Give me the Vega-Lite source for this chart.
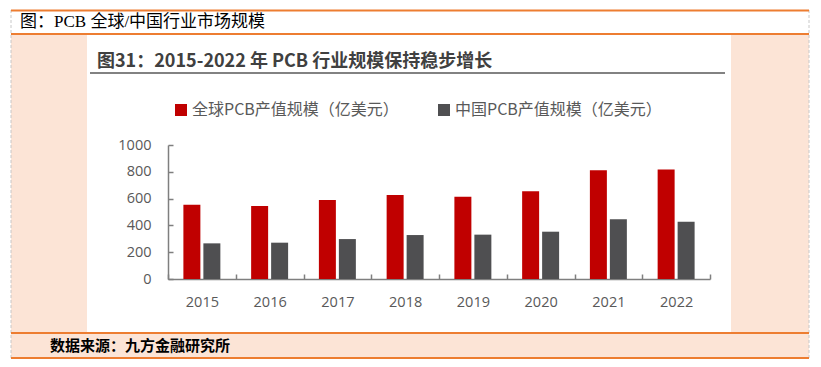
{
  "$schema": "https://vega.github.io/schema/vega-lite/v6.json",
  "width": 542,
  "height": 134,
  "autosize": {"type": "none"},
  "padding": {"left": 168, "top": 145, "right": 111, "bottom": 88},
  "background": "white",
  "config": {"view": {"stroke": null}, "font": "Noto Sans CJK SC"},
  "layer": [
    {
      "data": {"values": [{}]},
      "mark": {"type": "rect", "color": "#FCE4D6", "clip": false},
      "encoding": {"x": {"value": -157}, "x2": {"value": -81}, "y": {"value": -110}, "y2": {"value": 188}}
    },
    {
      "data": {"values": [{}]},
      "mark": {"type": "rect", "color": "#FCE4D6", "clip": false},
      "encoding": {"x": {"value": 563}, "x2": {"value": 641}, "y": {"value": -110}, "y2": {"value": 188}}
    },
    {
      "data": {"values": [{}]},
      "mark": {"type": "rect", "color": "#FCE4D6", "clip": false},
      "encoding": {"x": {"value": -157}, "x2": {"value": 641}, "y": {"value": 188}, "y2": {"value": 213}}
    },
    {
      "data": {"values": [{}]},
      "mark": {"type": "rule", "color": "#C8C8C8", "strokeDash": [3, 2], "strokeWidth": 1},
      "encoding": {"x": {"value": -157}, "y": {"value": -135}, "y2": {"value": 213}}
    },
    {
      "data": {"values": [{}]},
      "mark": {"type": "rule", "color": "#C8C8C8", "strokeDash": [3, 2], "strokeWidth": 1},
      "encoding": {"x": {"value": 641}, "y": {"value": -135}, "y2": {"value": 213}}
    },
    {
      "data": {"values": [{}]},
      "mark": {"type": "rule", "color": "#ED7D31", "strokeWidth": 2},
      "encoding": {"x": {"value": -157}, "x2": {"value": 641}, "y": {"value": -134.5}}
    },
    {
      "data": {"values": [{}]},
      "mark": {"type": "rule", "color": "#ED7D31", "strokeWidth": 2},
      "encoding": {"x": {"value": -157}, "x2": {"value": 641}, "y": {"value": -111}}
    },
    {
      "data": {"values": [{}]},
      "mark": {"type": "rule", "color": "#ED7D31", "strokeWidth": 2},
      "encoding": {"x": {"value": -157}, "x2": {"value": 641}, "y": {"value": 188}}
    },
    {
      "data": {"values": [{}]},
      "mark": {"type": "rule", "color": "#ED7D31", "strokeWidth": 2},
      "encoding": {"x": {"value": -157}, "x2": {"value": 641}, "y": {"value": 213}}
    },
    {
      "data": {"values": [{}]},
      "mark": {"type": "rule", "color": "#595959", "strokeWidth": 1.5},
      "encoding": {"x": {"value": -78}, "x2": {"value": 557}, "y": {"value": -72}}
    },
    {
      "data": {"values": [{}]},
      "mark": {"type": "text", "align": "left", "baseline": "middle", "font": "Liberation Serif, Noto Sans CJK SC", "fontSize": 17, "color": "#000000"},
      "encoding": {"x": {"value": -148}, "y": {"value": -123}, "text": {"value": "图：PCB 全球/中国行业市场规模"}}
    },
    {
      "data": {"values": [{}]},
      "mark": {"type": "text", "align": "left", "baseline": "middle", "font": "Noto Sans CJK SC", "fontSize": 18, "fontWeight": "bold", "color": "#404040"},
      "encoding": {"x": {"value": -71}, "y": {"value": -83}, "text": {"value": "图31：2015-2022 年 PCB 行业规模保持稳步增长"}}
    },
    {
      "data": {"values": [{}]},
      "mark": {"type": "text", "align": "left", "baseline": "middle", "font": "Noto Sans CJK SC", "fontSize": 15, "fontWeight": "bold", "color": "#000000"},
      "encoding": {"x": {"value": -118}, "y": {"value": 201}, "text": {"value": "数据来源：九方金融研究所"}}
    },
    {
      "data": {
        "values": [
          {"year": "2015", "series": "全球PCB产值规模（亿美元）", "value": 554},
          {"year": "2015", "series": "中国PCB产值规模（亿美元）", "value": 266},
          {"year": "2016", "series": "全球PCB产值规模（亿美元）", "value": 545},
          {"year": "2016", "series": "中国PCB产值规模（亿美元）", "value": 271},
          {"year": "2017", "series": "全球PCB产值规模（亿美元）", "value": 590},
          {"year": "2017", "series": "中国PCB产值规模（亿美元）", "value": 298},
          {"year": "2018", "series": "全球PCB产值规模（亿美元）", "value": 627},
          {"year": "2018", "series": "中国PCB产值规模（亿美元）", "value": 328},
          {"year": "2019", "series": "全球PCB产值规模（亿美元）", "value": 614},
          {"year": "2019", "series": "中国PCB产值规模（亿美元）", "value": 331},
          {"year": "2020", "series": "全球PCB产值规模（亿美元）", "value": 654},
          {"year": "2020", "series": "中国PCB产值规模（亿美元）", "value": 353},
          {"year": "2021", "series": "全球PCB产值规模（亿美元）", "value": 811},
          {"year": "2021", "series": "中国PCB产值规模（亿美元）", "value": 445},
          {"year": "2022", "series": "全球PCB产值规模（亿美元）", "value": 818},
          {"year": "2022", "series": "中国PCB产值规模（亿美元）", "value": 428}
        ]
      },
      "mark": {"type": "bar"},
      "encoding": {
        "x": {
          "field": "year", "type": "nominal",
          "scale": {"paddingInner": 0, "paddingOuter": 0},
          "axis": {
            "title": null, "labelAngle": 0, "tickBand": "extent", "tickSize": -5,
            "domainColor": "#7F7F7F", "domainWidth": 1.5, "tickColor": "#7F7F7F", "tickWidth": 1.5,
            "labelFont": "Open Sans", "labelFontSize": 14.5, "labelColor": "#595959", "labelPadding": 21
          }
        },
        "xOffset": {
          "field": "series", "type": "nominal",
          "sort": ["全球PCB产值规模（亿美元）", "中国PCB产值规模（亿美元）"],
          "scale": {"paddingInner": 0.15, "paddingOuter": 0.77}
        },
        "y": {
          "field": "value", "type": "quantitative",
          "scale": {"domain": [0, 1000]},
          "axis": {
            "title": null, "grid": false, "values": [0, 200, 400, 600, 800, 1000], "format": "d",
            "tickSize": -5, "domainColor": "#7F7F7F", "domainWidth": 1.5, "tickColor": "#7F7F7F", "tickWidth": 1.5,
            "labelFont": "Open Sans", "labelFontSize": 14.5, "labelColor": "#595959", "labelPadding": 22
          }
        },
        "color": {
          "field": "series", "type": "nominal",
          "sort": ["全球PCB产值规模（亿美元）", "中国PCB产值规模（亿美元）"],
          "scale": {"domain": ["全球PCB产值规模（亿美元）", "中国PCB产值规模（亿美元）"], "range": ["#C00000", "#4F4F51"]},
          "legend": {
            "title": null, "orient": "none", "legendX": 5, "legendY": -43, "direction": "horizontal",
            "symbolType": "square", "symbolSize": 144, "symbolStrokeWidth": 0,
            "labelFont": "Noto Sans CJK SC", "labelFontSize": 16, "labelColor": "#595959", "labelOffset": 3, "labelLimit": 400, "columnPadding": 37
          }
        }
      }
    }
  ]
}
